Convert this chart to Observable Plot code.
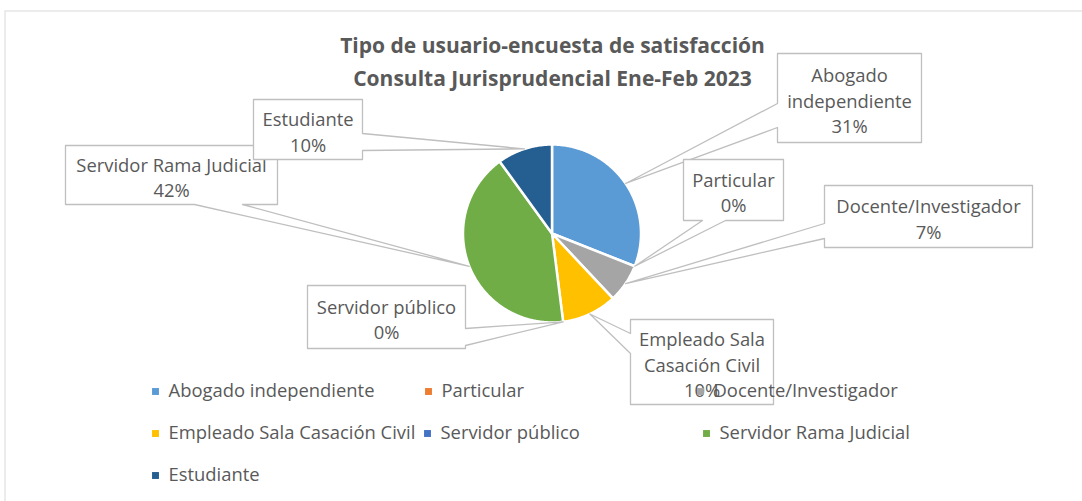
<!DOCTYPE html>
<html><head><meta charset="utf-8">
<script src="https://cdn.jsdelivr.net/npm/d3@7"></script>
<script src="https://cdn.jsdelivr.net/npm/@observablehq/plot@0.6"></script>
<style>body{margin:0;background:#fff}</style>
</head><body><div id="chart"></div>
<script>
// ---- data ----
const titleLines = ["Tipo de usuario-encuesta de satisfacción", "Consulta Jurisprudencial Ene-Feb 2023"];
const categories = ["Abogado independiente", "Particular", "Docente/Investigador", "Empleado Sala Casación Civil", "Servidor público", "Servidor Rama Judicial", "Estudiante"];
const values = [31, 0, 7, 10, 0, 42, 10];
const colors = ["#5B9BD5", "#ED7D31", "#A5A5A5", "#FFC000", "#4472C4", "#70AD47", "#255E91"];
const labelNames = ["Abogado\nindependiente", "Particular", "Docente/Investigador", "Empleado Sala\nCasación Civil", "Servidor público", "Servidor Rama Judicial", "Estudiante"];

// ---- layout ----
const W = 1082, H = 501;
const pieC = {x: 551.5, y: 233, r: 89};
// callout boxes: [x1,y1,x2,y2], side of pointer, pointer base offsets
const callouts = [
  {box: [777, 53, 921, 142], side: "left", base: [103, 127]},
  {box: [683, 159, 783, 220], side: "bottom", base: [702, 725]},
  {box: [824, 185, 1032, 247], side: "left", base: [223, 238]},
  {box: [630, 319, 773, 404], side: "left", base: [333, 353]},
  {box: [307, 285, 465, 348], side: "right", base: [328, 345]},
  {box: [65, 145, 277, 204], side: "bottom", base: [194, 242]},
  {box: [253, 99, 362, 159], side: "right", base: [133, 150]}
];
const legendPos = [[155, 391], [428, 391], [700, 391], [155, 433], [427, 433], [706, 433], [155, 475]];
const textColor = "#595959";
const font = "'Open Sans', 'Liberation Sans', sans-serif";

const rows = categories.map((c, i) => ({category: c, value: values[i], color: colors[i], label: labelNames[i] + "\n" + values[i] + "%"}));
const arcs = d3.pie().sort(null).value(d => d.value)(rows);
const pt = (a, r) => [pieC.x + r * Math.sin(a), pieC.y - r * Math.cos(a)];

// slice polygons
const slicePts = [];
arcs.forEach((a, i) => {
  if (a.endAngle - a.startAngle <= 0) return;
  slicePts.push({id: i, x: pieC.x, y: pieC.y, color: a.data.color});
  const n = Math.max(2, Math.ceil((a.endAngle - a.startAngle) / 0.01));
  for (let k = 0; k <= n; k++) {
    const t = a.startAngle + (a.endAngle - a.startAngle) * k / n;
    const [x, y] = pt(t, pieC.r);
    slicePts.push({id: i, x, y, color: a.data.color});
  }
});

function calloutPoly(c, anchor) {
  const [x1, y1, x2, y2] = c.box;
  const [b1, b2] = c.base;
  const P = [];
  P.push([x1, y1]);
  if (c.side === "top") { P.push([Math.min(b1,b2), y1], anchor, [Math.max(b1,b2), y1]); }
  P.push([x2, y1]);
  if (c.side === "right") { P.push([x2, Math.min(b1,b2)], anchor, [x2, Math.max(b1,b2)]); }
  P.push([x2, y2]);
  if (c.side === "bottom") { P.push([Math.max(b1,b2), y2], anchor, [Math.min(b1,b2), y2]); }
  P.push([x1, y2]);
  if (c.side === "left") { P.push([x1, Math.max(b1,b2)], anchor, [x1, Math.min(b1,b2)]); }
  return P.map(([x, y]) => ({x, y}));
}

const marks = [
  Plot.frame({stroke: "#d9d9d9", insetLeft: 4.5, insetTop: 10.5, insetRight: -20, insetBottom: -20}),
  Plot.line(slicePts, {x: "x", y: "y", z: "id", fill: "color", stroke: "white", strokeWidth: 2.5, strokeLinejoin: "round", curve: "linear-closed"}),
  Plot.text(titleLines, {x: () => 552, y: (d, i) => 45.5 + i * 33, text: d => d, fontSize: 21, fontWeight: "bold", fill: textColor})
];

arcs.forEach((a, i) => {
  const c = callouts[i];
  const mid = (a.startAngle + a.endAngle) / 2;
  const anchor = pt(mid, pieC.r);
  marks.push(Plot.line(calloutPoly(c, anchor), {x: "x", y: "y", fill: "white", stroke: "#bfbfbf", strokeWidth: 1.3, curve: "linear-closed"}));
  marks.push(Plot.text([a.data], {x: () => (c.box[0] + c.box[2]) / 2, y: () => (c.box[1] + c.box[3]) / 2 + 1.5, text: "label", fontSize: 18.4, lineHeight: 1.39, fill: textColor}));
});

const legendRows = rows.map((r, i) => ({...r, lx: legendPos[i][0], ly: legendPos[i][1]}));
marks.push(Plot.dot(legendRows, {x: "lx", y: "ly", fill: "color", symbol: "square", r: 3.9}));
marks.push(Plot.text(legendRows, {x: d => d.lx + 13, y: "ly", text: "category", textAnchor: "start", fontSize: 18.4, fill: textColor}));

const chart = Plot.plot({
  width: W, height: H,
  margin: 0,
  x: {type: "identity", axis: null},
  y: {type: "identity", axis: null},
  color: {type: "identity"},
  style: {fontFamily: font, background: "white"},
  marks
});
document.getElementById("chart").appendChild(chart);
</script>
</body></html>
